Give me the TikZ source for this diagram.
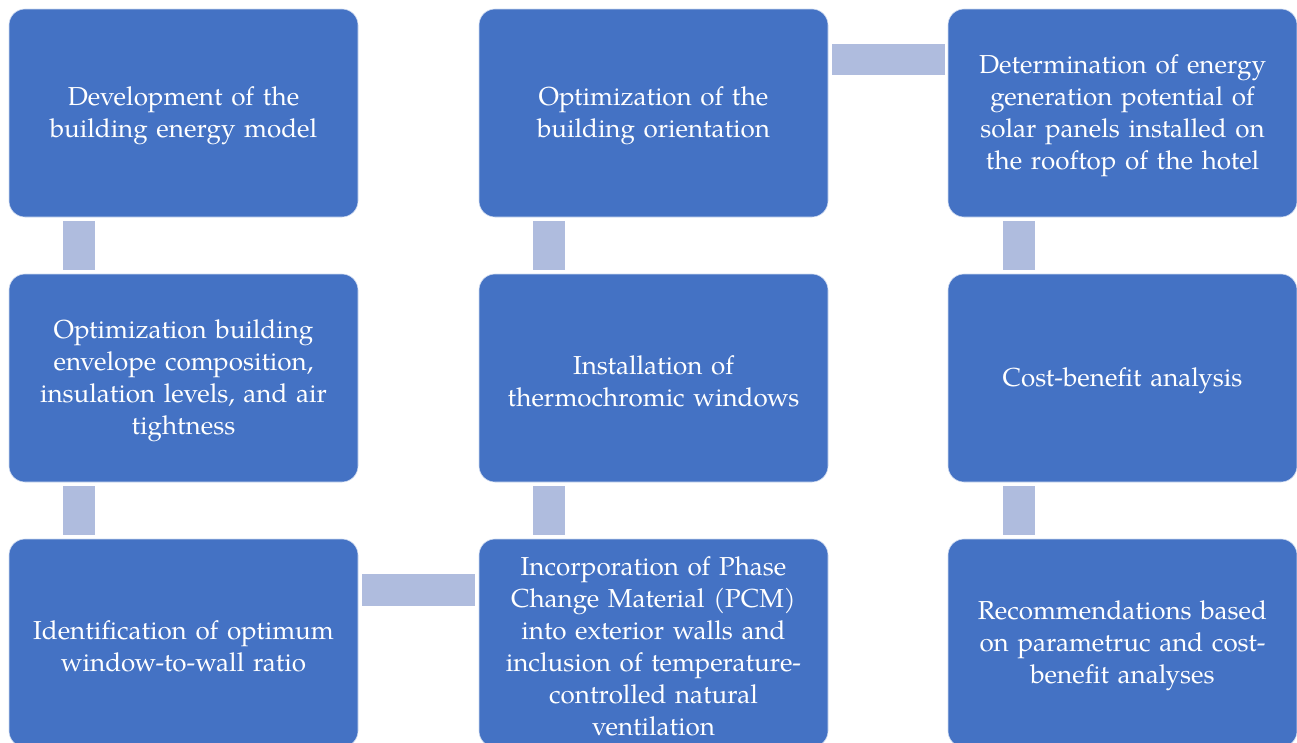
\documentclass[tikz,border=0pt]{standalone}
\usepackage{fontspec}
\setmainfont{TeX Gyre Pagella}
\usepackage{tikz}
\usetikzlibrary{positioning, calc}
\definecolor{boxblue}{HTML}{4472C4}
\definecolor{linkblue}{HTML}{AFBCDE}
\tikzset{
    procbox/.style = {rectangle, rounded corners=16pt, fill=boxblue,
        draw=white!75!boxblue, line width=0.6pt, text=white,
        minimum width=349pt, minimum height=208pt, inner sep=0pt, outer sep=0pt,
        text width=340pt, align=center,
        execute at end node={\par\vspace*{-6pt}},
        font=\fontsize{26pt}{32pt}\selectfont},
    linkbar/.style = {fill=linkblue},
}
\begin{document}
\begin{tikzpicture}
        \useasboundingbox (0pt,0pt) rectangle (1297pt,-742pt);
        \clip (0pt,0pt) rectangle (1297pt,-742pt);
        % first row
        \node [procbox] (model) at (183.5pt,-113pt) {Development of the\\building energy model};
        \node [procbox, right=121pt of model] (orient) {Optimization of the\\building orientation};
        \node [procbox, right=120pt of orient] (solar) {Determination of energy\\generation potential of\\solar panels installed on\\the rooftop of the hotel};
        % second row
        \node [procbox, below=57pt of model] (envelope) {Optimization building\\envelope composition,\\insulation levels, and air\\tightness};
        \node [procbox, below=57pt of orient] (thermo) {Installation of\\thermochromic windows};
        \node [procbox, below=57pt of solar] (cost) {Cost-benefit analysis};
        % third row
        \node [procbox, below=57pt of envelope] (wwr) {Identification of optimum\\window-to-wall ratio};
        \node [procbox, below=57pt of thermo] (pcm) {Incorporation of Phase\\Change Material (PCM)\\into exterior walls and\\inclusion of temperature-\\controlled natural\\ventilation};
        \node [procbox, below=57pt of cost] (recom) {Recommendations based\\on parametruc and cost-\\benefit analyses};
        % links
        \fill [linkbar] ($(model.south west)+(54pt,-4pt)$) rectangle ($(envelope.north west)+(86pt,4pt)$);
        \fill [linkbar] ($(envelope.south west)+(54pt,-4pt)$) rectangle ($(wwr.north west)+(86pt,4pt)$);
        \fill [linkbar] ($(wwr.north east)+(4pt,-35pt)$) rectangle ($(pcm.north west)+(-4pt,-67pt)$);
        \fill [linkbar] ($(pcm.north west)+(54pt,4pt)$) rectangle ($(thermo.south west)+(86pt,-4pt)$);
        \fill [linkbar] ($(thermo.north west)+(54pt,4pt)$) rectangle ($(orient.south west)+(86pt,-4pt)$);
        \fill [linkbar] ($(orient.north east)+(4pt,-35pt)$) rectangle ($(solar.north west)+(-3pt,-66pt)$);
        \fill [linkbar] ($(solar.south west)+(55pt,-4pt)$) rectangle ($(cost.north west)+(87pt,4pt)$);
        \fill [linkbar] ($(cost.south west)+(55pt,-4pt)$) rectangle ($(recom.north west)+(87pt,4pt)$);
\end{tikzpicture}
\end{document}
